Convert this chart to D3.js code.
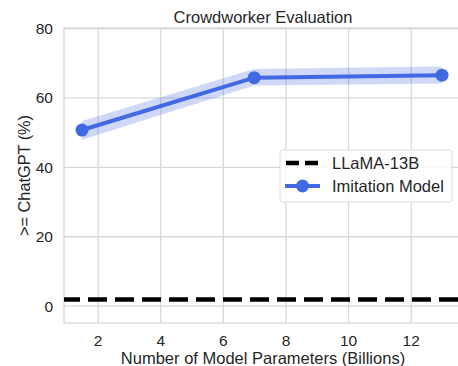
<!DOCTYPE html>
<html><head><meta charset="utf-8">
<script src="https://cdn.jsdelivr.net/npm/d3@7"></script>
<style>body{margin:0;background:#fff}svg{display:block;font-family:"Liberation Sans",Arial,sans-serif}</style>
</head><body><svg id="c" width="458" height="366"></svg>
<script>
const params = [1.5, 7, 13];
const imitation = [50.6, 65.7, 66.4];
const bandLow = [47.8, 63.4, 64.0];
const bandHigh = [53.2, 68.2, 68.9];
const llamaValue = 1.8;
const xTicks = [2, 4, 6, 8, 10, 12];
const yTicks = [0, 20, 40, 60, 80];
const legendLabels = ["LLaMA-13B", "Imitation Model"];

const svg = d3.select("#c");
const L = 64, R = 460, T = 28, B = 323;
const x = d3.scaleLinear().domain([0.925, 13.575]).range([L, R]);
const y = d3.scaleLinear().domain([-5, 80]).range([B, T]);
const grid = "#d8d8d8";
const blue = "#4169e1";
const txt = "#262626";

svg.append("g").attr("transform", `translate(0,${B})`)
  .call(d3.axisBottom(x).tickValues(xTicks).tickSize(-(B - T)).tickFormat(d3.format("d")))
  .call(g => { g.select(".domain").remove();
    g.selectAll("line").attr("stroke", grid).attr("stroke-width", 1.3);
    g.selectAll("text").attr("dy", 0).attr("y", 23).attr("font-size", 15.5).attr("fill", txt).attr("font-family", "Liberation Sans, Arial"); });
svg.append("g").attr("transform", `translate(${L},0)`)
  .call(d3.axisLeft(y).tickValues(yTicks).tickSize(-(R - L)))
  .call(g => { g.select(".domain").remove();
    g.selectAll("line").attr("stroke", grid).attr("stroke-width", 1.3);
    g.selectAll("text").attr("x", -11).attr("dy", "0.35em").attr("font-size", 15.5).attr("fill", txt).attr("font-family", "Liberation Sans, Arial"); });
svg.append("rect").attr("x", L).attr("y", T).attr("width", R - L).attr("height", B - T)
  .attr("fill", "none").attr("stroke", grid).attr("stroke-width", 1.3);

const idx = d3.range(params.length);
svg.append("path").datum(idx)
  .attr("d", d3.area().x(i => x(params[i])).y0(i => y(bandLow[i])).y1(i => y(bandHigh[i])))
  .attr("fill", blue).attr("opacity", 0.25);

svg.append("line").attr("x1", L).attr("x2", R).attr("y1", y(llamaValue)).attr("y2", y(llamaValue))
  .attr("stroke", "#000").attr("stroke-width", 4.5).attr("stroke-dasharray", "19,8").attr("stroke-dashoffset", 3);

svg.append("path").datum(idx)
  .attr("d", d3.line().x(i => x(params[i])).y(i => y(imitation[i])))
  .attr("fill", "none").attr("stroke", blue).attr("stroke-width", 4);
svg.selectAll("circle.pt").data(idx).join("circle").attr("class", "pt")
  .attr("cx", i => x(params[i])).attr("cy", i => y(imitation[i])).attr("r", 6.5).attr("fill", blue);

// title and labels
svg.append("text").attr("x", 263).attr("y", 23).attr("text-anchor", "middle")
  .attr("font-size", 16.5).attr("fill", txt).text("Crowdworker Evaluation");
svg.append("text").attr("x", 263).attr("y", 364).attr("text-anchor", "middle")
  .attr("font-size", 16.5).attr("fill", txt).text("Number of Model Parameters (Billions)");
svg.append("text").attr("transform", `translate(30,${(T + B) / 2}) rotate(-90)`).attr("text-anchor", "middle")
  .attr("font-size", 16.3).attr("fill", txt).text(">= ChatGPT (%)");

// legend
const lg = svg.append("g");
lg.append("rect").attr("x", 280).attr("y", 150).attr("width", 172).attr("height", 52).attr("rx", 3)
  .attr("fill", "#fff").attr("fill-opacity", 0.85).attr("stroke", "#ddd");
lg.append("line").attr("x1", 286).attr("x2", 320).attr("y1", 163).attr("y2", 163)
  .attr("stroke", "#000").attr("stroke-width", 4.5).attr("stroke-dasharray", "13,6");
lg.append("line").attr("x1", 285).attr("x2", 320).attr("y1", 186).attr("y2", 186)
  .attr("stroke", blue).attr("stroke-width", 4);
lg.append("circle").attr("cx", 302.5).attr("cy", 186).attr("r", 6.5).attr("fill", blue);
legendLabels.forEach((t, i) => lg.append("text").attr("x", 332).attr("y", 169 + i * 23)
  .attr("font-size", 16.5).attr("fill", txt).text(t));
</script></body></html>
